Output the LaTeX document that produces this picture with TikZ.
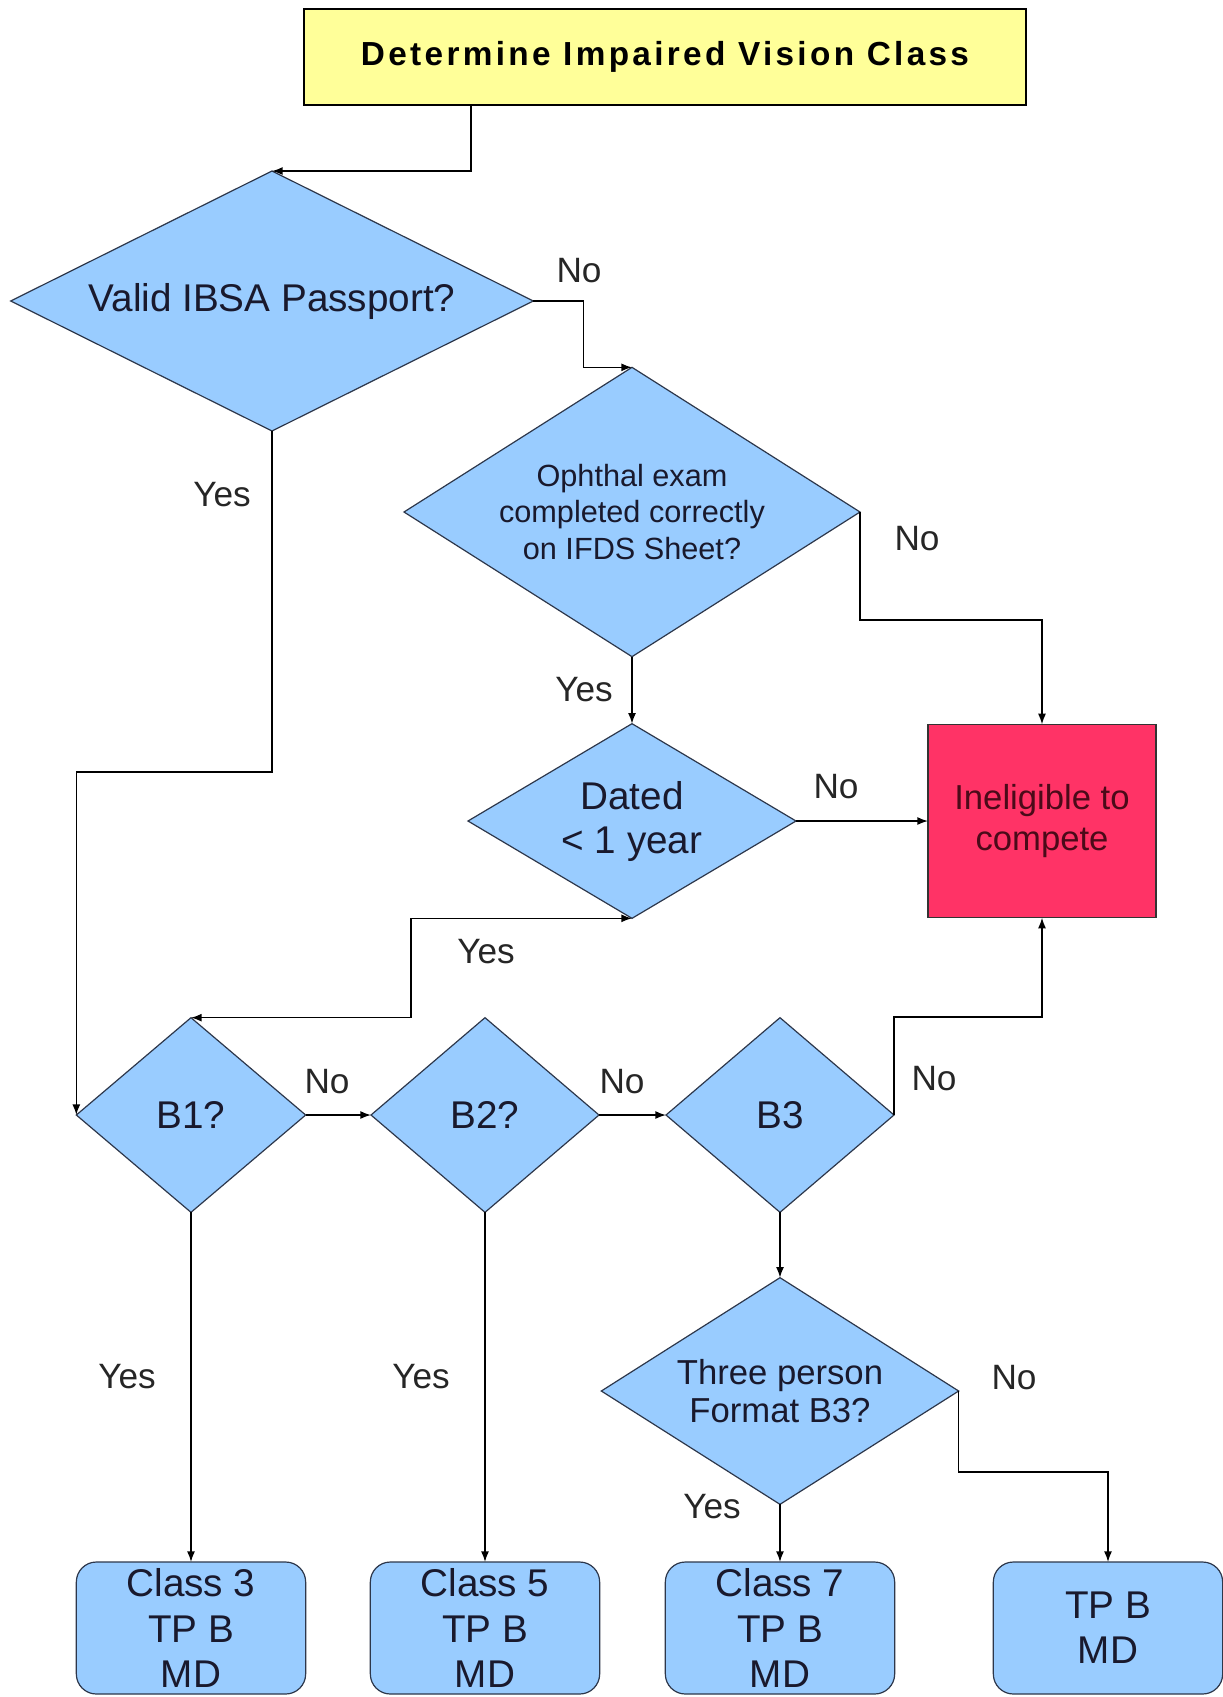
\documentclass[tikz,border=0pt]{standalone}
\usepackage{fontspec}
\setmainfont{Liberation Sans}
\newfontfamily\titlefont[LetterSpace=10]{Liberation Sans}
\usetikzlibrary{shapes.geometric}
\usetikzlibrary{arrows.meta}
\usetikzlibrary{positioning}
\definecolor{qblue}{RGB}{153,204,255}
\definecolor{qyellow}{RGB}{255,255,153}
\definecolor{qred}{RGB}{255,51,102}
\definecolor{qedge}{RGB}{45,55,75}
\definecolor{qtext}{RGB}{25,25,45}
\definecolor{qredtext}{RGB}{75,10,25}
\tikzset{decision/.style={diamond, draw=qedge, line width=0.9pt, fill=qblue, inner sep=0pt, outer sep=0pt, align=center, text=qtext, font=\fontsize{29}{33}\selectfont},
	outcome/.style={rectangle, rounded corners=15pt, draw=qedge, line width=0.9pt, fill=qblue, inner sep=0pt, outer sep=0pt, align=center, text=qtext, minimum width=172pt, minimum height=99pt, font=\fontsize{29}{34}\selectfont},
	flow/.style={draw, line width=1.1pt, -{Latex[length=8pt,width=6pt]}},
	lbl/.style={inner sep=0pt, text=black!85, font=\fontsize{26.4}{30}\selectfont}}

\begin{document}
\begin{tikzpicture}[x=0.75pt,y=-0.75pt]
	\useasboundingbox (0,0) rectangle (1223,1697);
	\node[rectangle, draw=black, line width=1.3pt, fill=qyellow, minimum width=541pt, minimum height=72pt, outer sep=0pt, font=\titlefont\bfseries\fontsize{25}{30}\selectfont] (title) at (665,57) {Determine Impaired Vision Class};
	\node[decision, shape aspect=2.01, minimum width=392pt, minimum height=195pt] (passport) at (272,301) {Valid IBSA Passport?};
	\node[decision, shape aspect=1.58, minimum width=342pt, minimum height=217pt, font=\fontsize{23}{27.4}\selectfont] (exam) at (632,512) {Ophthal exam\\completed correctly\\on IFDS Sheet?};
	\node[decision, shape aspect=1.68, minimum width=246pt, minimum height=146pt] (dated) at (632,821) {Dated\\< 1 year};
	\node[rectangle, draw=black!80, line width=1.1pt, fill=qred, minimum width=171pt, minimum height=145pt, outer sep=0pt, align=center, text=qredtext, font=\fontsize{26}{30.8}\selectfont] (inel) at (1042,821) {Ineligible to\\compete};
	\node[decision, shape aspect=1.17, minimum width=172pt, minimum height=146pt] (bone) at (191,1115) {B1?};
	\node[decision, shape aspect=1.17, minimum width=171pt, minimum height=146pt] (btwo) at (485,1115) {B2?};
	\node[decision, shape aspect=1.17, minimum width=171pt, minimum height=146pt] (bthree) at (780,1115) {B3};
	\node[decision, shape aspect=1.57, minimum width=268pt, minimum height=170pt, font=\fontsize{26}{28.5}\selectfont] (three) at (780,1391) {Three person\\Format B3?};
	\node[outcome] (cthree) at (191,1628) {Class 3\\TP B\\MD};
	\node[outcome] (cfive) at (485,1628) {Class 5\\TP B\\MD};
	\node[outcome] (cseven) at (780,1628) {Class 7\\TP B\\MD};
	\node[outcome] (tpb) at (1108,1628) {TP B\\MD};
	% yes / no labels
	\node[lbl] (pno) at (579,271) {No};
	\node[lbl] (pyes) at (222,495) {Yes};
	\node[lbl] (eno) at (917,539) {No};
	\node[lbl] (eyes) at (584,690) {Yes};
	\node[lbl] (dno) at (836,787) {No};
	\node[lbl] (dyes) at (486,952) {Yes};
	\node[lbl] (bono) at (327,1082) {No};
	\node[lbl] (btwono) at (622,1082) {No};
	\node[lbl] (bthreeno) at (934,1079) {No};
	\node[lbl] (boneyes) at (127,1377) {Yes};
	\node[lbl] (btwoyes) at (421,1377) {Yes};
	\node[lbl] (tno) at (1014,1378) {No};
	\node[lbl] (tyes) at (712,1507) {Yes};
	% connectors
	\draw[flow] ([xshift=-145.5pt]title.south) |- (passport.north);
	\draw[flow] (passport.east) -- ++(50,0) |- (exam.north);
	\draw[flow] (passport.south) -- ++(0,341) -| (bone.west);
	\draw[flow] (exam.east) -- ++(0,108) -| (inel.north);
	\draw[flow] (exam.south) -- (dated.north);
	\draw[flow] (dated.east) -- (inel.west);
	\draw[flow, {Latex[length=8pt,width=6pt]}-{Latex[length=8pt,width=6pt]}] (dated.south) -- ++(-221,0) |- (bone.north);
	\draw[flow] (bone.east) -- (btwo.west);
	\draw[flow] (btwo.east) -- (bthree.west);
	\draw[flow] (bthree.east) -- ++(0,-98) -| (inel.south);
	\draw[flow] (bthree.south) -- (three.north);
	\draw[flow] (three.east) -- ++(0,81) -| (tpb.north);
	\draw[flow] (three.south) -- (cseven.north);
	\draw[flow] (bone.south) -- (cthree.north);
	\draw[flow] (btwo.south) -- (cfive.north);
\end{tikzpicture}
\end{document}
